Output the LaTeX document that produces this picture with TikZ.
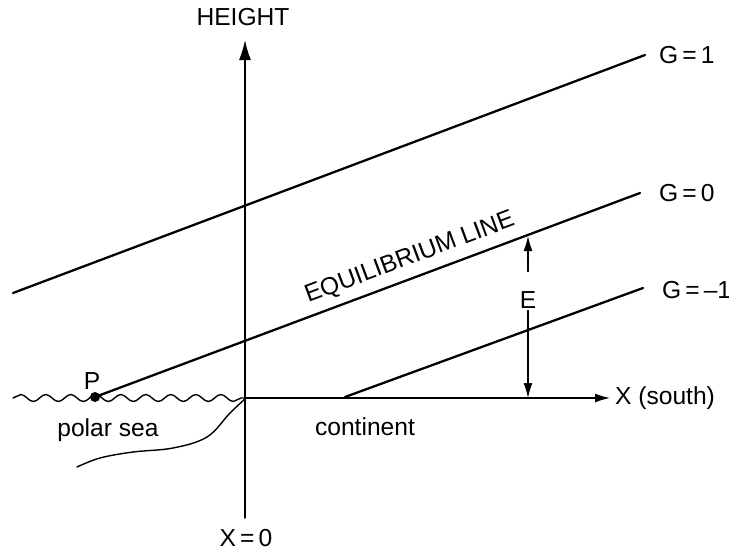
\documentclass[tikz,border=0pt]{standalone}
\usepackage{fontspec}
\setmainfont{Liberation Sans}
\usetikzlibrary{arrows.meta,decorations.pathmorphing}

\begin{document}
\begin{tikzpicture}[>={Latex[length=0.3cm,width=0.18cm]}, line cap=round, line join=round,
    font=\fontsize{14}{16}\selectfont]

% --- Global TikZ Styles for Consistency ---
\tikzset{
    axis/.style={
        ->,
        line width=0.8pt,
        draw=black
    },
    gline/.style={
        draw=black,
        line width=1.3pt
    },
    sea/.style={
        draw=black,
        line width=0.8pt,
        decorate,
        decoration={snake, segment length=0.5cm, amplitude=0.07cm}
    },
    label/.style={
        inner sep=1pt
    }
}

\useasboundingbox (-4.9,-3.14) rectangle (9.68,7.96);

% =========================================================================
% --- Axes ---
% =========================================================================
\coordinate (O) at (0,0);
\coordinate (ybot) at (0,-2.4);
\coordinate (ytop) at (0,7.16);
\coordinate (xend) at (7.3,0);

\draw[axis, -{Latex[length=0.4cm,width=0.24cm]}] (ybot) -- (ytop);   % height axis
\draw[axis] (O) -- (xend);      % x axis (south)

\node[label] (height) at (-0.04,7.62) {HEIGHT};
\node[label] (xzero) at (0.02,-2.8) {X\,=\,0};
\node[label, anchor=west] (xsouth) at (7.36,0) {X (south)};

% =========================================================================
% --- G lines ---
% =========================================================================
\coordinate (g1a) at (-4.64,2.1);
\coordinate (g1b) at (8.0,6.86);
\draw[gline] (g1a) -- (g1b);
\node[label, anchor=west] (g1) at (8.24,6.86) {G\,=\,1};

% --- Equilibrium line, starting at P ---
\coordinate (P) at (-3.0,0.02);
\coordinate (g0b) at (7.9,4.1);
\draw[gline] (P) -- (g0b);
\fill (P) circle (0.1);
\node[label] (plabel) at (-3.06,0.34) {P};
\node[label] (g0) [anchor=west] at (8.24,4.1) {G\,=\,0};
\node[label, anchor=base, rotate=20.5] (eqline) at (3.34,2.68) {EQUILIBRIUM LINE};

% --- Lower line, starting at the coast of the continent ---
\coordinate (gma) at (2.0,0.02);
\coordinate (gmb) at (7.96,2.2);
\draw[gline] (gma) -- (gmb);
\node[label, anchor=west] (gm1) at (8.3,2.16) {G\,=\,--1};

% =========================================================================
% --- Height of the equilibrium line, E ---
% =========================================================================
\node[label] (E) at (5.66,1.96) {E};
\coordinate (etop) at (5.66,3.24);
\coordinate (ebot) at (5.66,0);
\draw[->, line width=0.8pt] ([yshift=0.36cm]E.north) -- (etop);
\draw[->, line width=0.8pt] (E.south) -- (ebot);

% =========================================================================
% --- Polar sea and coastline ---
% =========================================================================
\coordinate (seaw) at (-4.64,0);
\draw[sea] (seaw) -- (O);

\draw[line width=0.8pt]
    plot[smooth, tension=0.6] coordinates {(0,-0.02) (-0.3,-0.3) (-0.76,-0.78)
        (-1.44,-1.0) (-2.24,-1.08) (-2.9,-1.2) (-3.36,-1.38)};

\node[label] (polarsea) at (-2.74,-0.64) {polar sea};
\node[label] (continent) at (2.4,-0.58) {continent};

\end{tikzpicture}
\end{document}
